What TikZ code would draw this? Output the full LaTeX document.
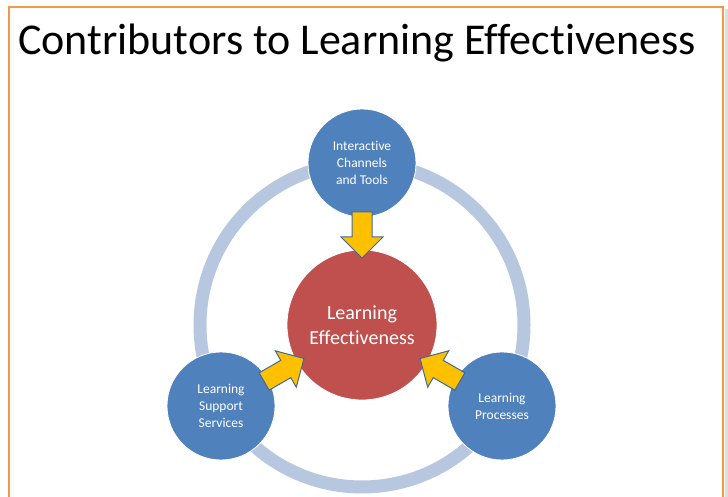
\documentclass[tikz,border=0pt]{standalone}
\usepackage{fontspec}
\setmainfont[Ligatures=CommonOff]{Carlito}
\definecolor{frameorange}{HTML}{F79646}
\definecolor{nodeblue}{HTML}{4F81BD}
\definecolor{corered}{HTML}{C0504D}
\definecolor{ringblue}{HTML}{B7C7E0}
\definecolor{arrowgold}{HTML}{FFC000}
\definecolor{arrowedge}{HTML}{3F6A98}
\tikzset{
  outer/.style={circle, fill=nodeblue, draw=white, line width=0.8pt,
    minimum size=108pt, inner sep=0pt, text=white, align=center,
    font=\fontsize{13.5}{17}\selectfont},
  core/.style={circle, fill=corered, draw=white, line width=0.8pt,
    minimum size=150pt, inner sep=0pt, text=white, align=center,
    font=\fontsize{20}{25}\selectfont},
  blockarrow/.style={fill=arrowgold, draw=arrowedge, line width=1pt, line join=miter}
}
\begin{document}
\begin{tikzpicture}[x=1pt,y=1pt]
  \useasboundingbox (0,0) rectangle (728,497);
  \fill[white] (0,0) rectangle (728,497);
  % slide shadow and frame
  \fill[gray!25] (724.5,0) rectangle (728,488);
  \draw[frameorange, line width=2.5pt] (9,-5) -- (9,490) -- (723,490) -- (723,-5);
  % title
  \node[anchor=base west, inner sep=0pt, font=\fontsize{44}{50}\selectfont] (title) at (18,442)
    {Contributors to Learning Effectiveness};
  % ring
  \coordinate (c) at (362,172);
  \draw[ringblue, line width=13pt] (c) circle[radius=162];
  % nodes
  \node[core] (core) at (c) {Learning\\Effectiveness};
  \node[outer] (top) at (362,334) {Interactive\\Channels\\and Tools};
  \node[outer] (left) at (221,91) {Learning\\Support\\Services};
  \node[outer] (right) at (502,91) {Learning\\Processes};
  % block arrows pointing inwards
  \foreach \r in {0,120,240}{
    \begin{scope}[shift={(c)}, rotate=\r]
      \draw[blockarrow] (-10,113) -- (10,113) -- (10,88) -- (21,88) -- (0,67)
        -- (-21,88) -- (-10,88) -- cycle;
    \end{scope}
  }
\end{tikzpicture}
\end{document}
